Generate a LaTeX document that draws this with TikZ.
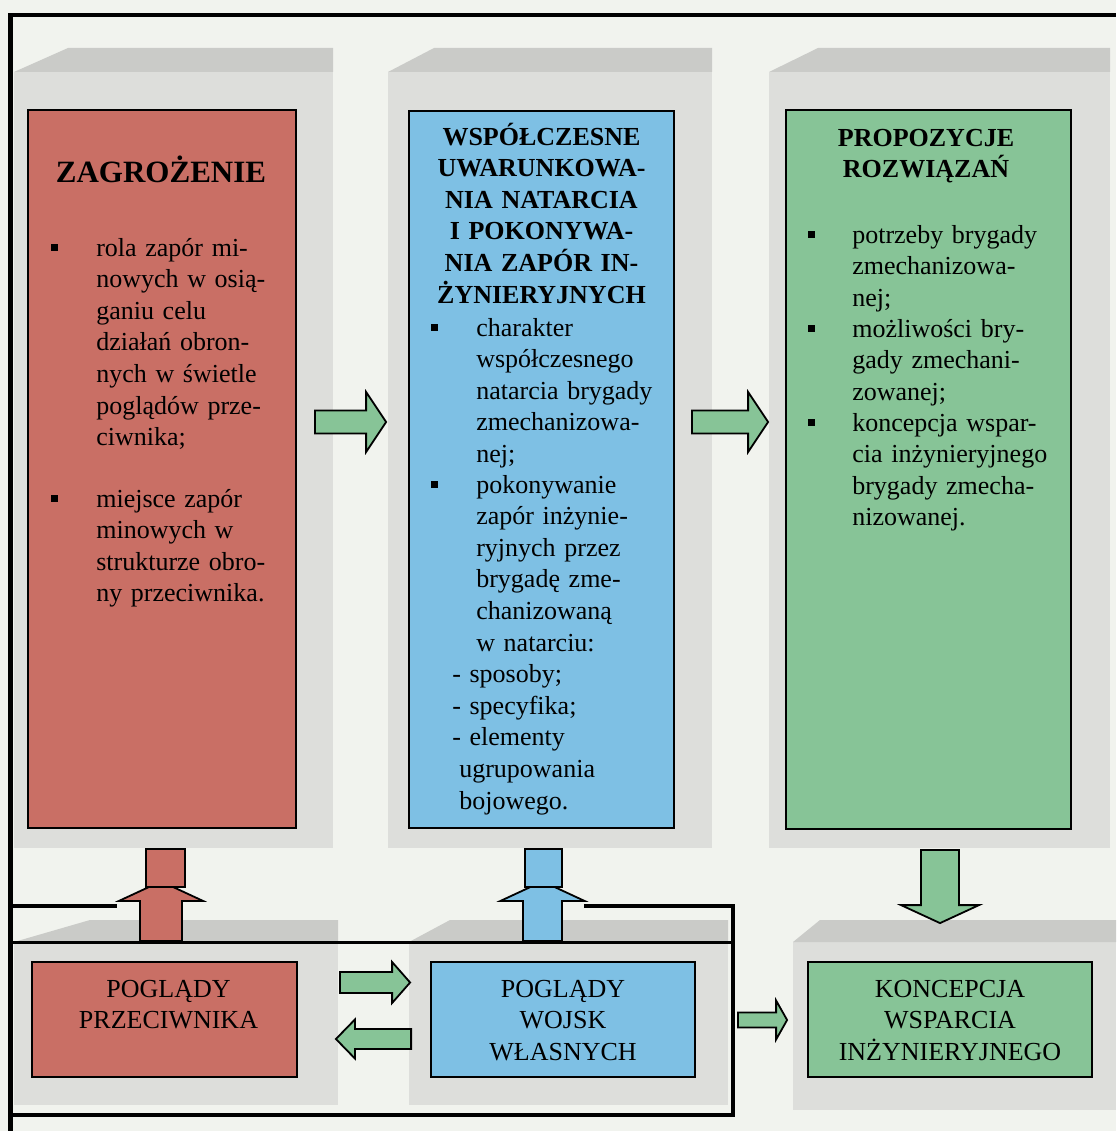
\documentclass[tikz,border=0pt]{standalone}
\usepackage{fontspec}
\setmainfont{Liberation Serif}
\usetikzlibrary{shapes,arrows,positioning,calc}

\definecolor{pagebg}{RGB}{241,243,238}
\definecolor{shadefront}{RGB}{221,222,219}
\definecolor{shadetop}{RGB}{202,203,200}
\definecolor{zagrred}{RGB}{201,111,101}
\definecolor{wspblue}{RGB}{126,192,228}
\definecolor{propgreen}{RGB}{135,196,151}

\tikzset{
  box/.style={rectangle,draw=black,line width=1.8pt,inner sep=0pt},
  boxtitle/.style={inner sep=0pt,anchor=base,align=center,text width=260pt,
    font=\fontsize{26}{31.6}\selectfont\bfseries},
  boxtext/.style={inner sep=0pt,anchor=base west,align=left,text width=240pt,
    font=\fontsize{26}{31.6}\selectfont},
  boxcaps/.style={inner sep=0pt,anchor=base,align=center,text width=260pt,
    font=\fontsize{26}{31.6}\selectfont},
  bul/.style={rectangle,fill=black,minimum size=7pt,inner sep=0pt},
  thickrule/.style={line width=4.5pt},
  blk/.style={draw=black,line width=1.8pt,line join=miter}
}

\newcommand{\blockarrow}[6][]{%
  \coordinate (ba-h) at ($(#3)!#6!(#2)$);
  \filldraw[blk,#1] ($(#2)!#4!90:(#3)$) -- ($(ba-h)!#4!90:(#3)$)
    -- ($(ba-h)!#5!90:(#3)$) -- (#3) -- ($(ba-h)!#5!-90:(#3)$)
    -- ($(ba-h)!#4!-90:(#3)$) -- ($(#2)!#4!-90:(#3)$) -- cycle;}

\begin{document}
\begin{tikzpicture}[x=1pt,y=-1pt]
  \useasboundingbox (0,0) rectangle (1116,1131);
  \fill[pagebg] (0,0) rectangle (1116,1131);

  \foreach \xa/\xb/\xc in {14/68/333, 388/434/712, 769/818/1110} {
    \fill[shadefront] (\xa,72) rectangle (\xc,848);
    \fill[shadetop] (\xa,72) -- (\xb,48) -- (\xc,48) -- (\xc,72) -- cycle;
  }
  \foreach \xa/\xb/\xc/\yb in {14/90/338/1105, 409/450/728/1105, 793/820/1116/1110} {
    \fill[shadefront] (\xa,942) rectangle (\xc,\yb);
    \fill[shadetop] (\xa,942) -- (\xb,920) -- (\xc,920) -- (\xc,942) -- cycle;
  }

  \draw[thickrule] (10.5,1131) -- (10.5,15) -- (1116,15);
  \draw[thickrule] (12,906) -- (117,906);
  \draw[thickrule] (584,906) -- (733,906) -- (733,1115) -- (12,1115);
  \draw[line width=3pt] (12,942) -- (733,942);

  \node[box,fill=zagrred,minimum width=268pt,minimum height=718pt] (zagr) at (162,469) {};
  \node[boxtitle,font=\fontsize{31}{36}\selectfont\bfseries] (zagr-t) at ($(zagr.north)+(-1,73)$) {ZAGROŻENIE};
  \node[boxtext] (zagr-i1) at ($(zagr.north west)+(69,147)$) {rola zapór mi-\\nowych w  osią-\\ganiu celu\\działań obron-\\nych w świetle\\poglądów prze-\\ciwnika;};
  \node[boxtext] (zagr-i2) at ($(zagr.north west)+(69,398)$) {miejsce zapór\\minowych w\\strukturze obro-\\ny przeciwnika.};
  \node[bul] (zagr-b1) at ($(zagr-i1.base west)+(-42,-9)$) {};
  \node[bul] (zagr-b2) at ($(zagr-i2.base west)+(-42,-9)$) {};

  \node[box,fill=wspblue,minimum width=265pt,minimum height=717pt] (wspol) at (541.5,469.5) {};
  \node[boxtitle] (wspol-t) at ($(wspol.north)+(0,35)$) {WSPÓŁCZESNE\\UWARUNKOWA-\\NIA NATARCIA\\I POKONYWA-\\NIA ZAPÓR IN-\\ŻYNIERYJNYCH};
  \node[boxtext] (wspol-i1) at ($(wspol.north west)+(68,226)$) {charakter\\współczesnego\\natarcia brygady\\zmechanizowa-\\nej;};
  \node[boxtext] (wspol-i2) at ($(wspol.north west)+(68,383)$) {pokonywanie\\zapór inżynie-\\ryjnych przez\\brygadę zme-\\chanizowaną\\w natarciu:};
  \node[boxtext] (wspol-s) at ($(wspol.north west)+(44,572.6)$) {- sposoby;\\- specyfika;\\- elementy\\\hspace*{7pt}ugrupowania\\\hspace*{7pt}bojowego.};
  \node[bul] (wspol-b1) at ($(wspol-i1.base west)+(-42,-9)$) {};
  \node[bul] (wspol-b2) at ($(wspol-i2.base west)+(-42,-9)$) {};

  \node[box,fill=propgreen,minimum width=285pt,minimum height=719pt] (propoz) at (928.5,469.5) {};
  \node[boxtitle] (propoz-t) at ($(propoz.north)+(-2.5,37)$) {PROPOZYCJE\\ROZWIĄZAŃ};
  \node[boxtext] (propoz-i1) at ($(propoz.north west)+(67,134)$) {potrzeby brygady\\zmechanizowa-\\nej;};
  \node[boxtext] (propoz-i2) at ($(propoz.north west)+(67,228)$) {możliwości bry-\\gady zmechani-\\zowanej;};
  \node[boxtext] (propoz-i3) at ($(propoz.north west)+(67,322)$) {koncepcja wspar-\\cia inżynieryjnego\\brygady zmecha-\\nizowanej.};
  \node[bul] (propoz-b1) at ($(propoz-i1.base west)+(-41,-9)$) {};
  \node[bul] (propoz-b2) at ($(propoz-i2.base west)+(-41,-9)$) {};
  \node[bul] (propoz-b3) at ($(propoz-i3.base west)+(-41,-9)$) {};

  \node[box,fill=zagrred,minimum width=265pt,minimum height=115pt] (pprzec) at (164.5,1019.5) {};
  \node[boxcaps] (pprzec-t) at ($(pprzec.north)+(4,36)$) {POGLĄDY\\PRZECIWNIKA};
  \node[box,fill=wspblue,minimum width=264pt,minimum height=115pt] (pwlasn) at (563,1019.5) {};
  \node[boxcaps] (pwlasn-t) at ($(pwlasn.north)+(0,36)$) {POGLĄDY\\WOJSK\\WŁASNYCH};
  \node[box,fill=propgreen,minimum width=284pt,minimum height=115pt] (koncep) at (950,1019.5) {};
  \node[boxcaps] (koncep-t) at ($(koncep.north)+(0,36)$) {KONCEPCJA\\WSPARCIA\\INŻYNIERYJNEGO};

  \coordinate (zw-a) at ($(zagr.east)+(18,-47)$);
  \coordinate (zw-b) at ($(wspol.west)+(-22,-47.5)$);
  \coordinate (wp-a) at ($(wspol.east)+(17,-47.5)$);
  \coordinate (wp-b) at ($(propoz.west)+(-17,-47.5)$);
  \coordinate (pz-a) at ($(pprzec.north)+(-3.5,-20)$);
  \coordinate (pz-b) at ($(zagr.south)+(-1,52.5)$);
  \coordinate (ww-a) at ($(pwlasn.north)+(-20.5,-20)$);
  \coordinate (ww-b) at ($(wspol.south)+(1,52.5)$);
  \coordinate (pk-a) at ($(propoz.south)+(11.5,20)$);
  \coordinate (pk-b) at ($(koncep.north)+(-10,-38)$);
  \coordinate (pw-a) at ($(pprzec.east)+(42,-37)$);
  \coordinate (pw-b) at ($(pwlasn.west)+(-20,-37)$);
  \coordinate (wz-a) at ($(pwlasn.west)+(-19,19.5)$);
  \coordinate (wz-b) at ($(pprzec.east)+(38,19.5)$);
  \coordinate (wk-a) at ($(pwlasn.east)+(42,0.5)$);
  \coordinate (wk-b) at ($(koncep.west)+(-20,0.5)$);

  \blockarrow[fill=propgreen]{zw-a}{zw-b}{11.5pt}{30pt}{20pt}
  \blockarrow[fill=propgreen]{wp-a}{wp-b}{11.5pt}{30pt}{20pt}
  \blockarrow[fill=zagrred]{pz-a}{pz-b}{21pt}{42pt}{19.5pt}
  \filldraw[blk,fill=zagrred] ($(zagr.south)+(-16,20)$) rectangle ($(zagr.south)+(23,58)$);
  \blockarrow[fill=wspblue]{ww-a}{ww-b}{19.5pt}{42pt}{19.5pt}
  \filldraw[blk,fill=wspblue] ($(wspol.south)+(-16.5,20)$) rectangle ($(wspol.south)+(20.5,58)$);
  \blockarrow[fill=propgreen]{pk-a}{pk-b}{19pt}{39pt}{18pt}
  \blockarrow[fill=propgreen]{pw-a}{pw-b}{10.5pt}{20.5pt}{18pt}
  \blockarrow[fill=propgreen]{wz-a}{wz-b}{10pt}{19.5pt}{19pt}
  \blockarrow[fill=propgreen]{wk-a}{wk-b}{7.5pt}{19.5pt}{11pt}
\end{tikzpicture}
\end{document}
